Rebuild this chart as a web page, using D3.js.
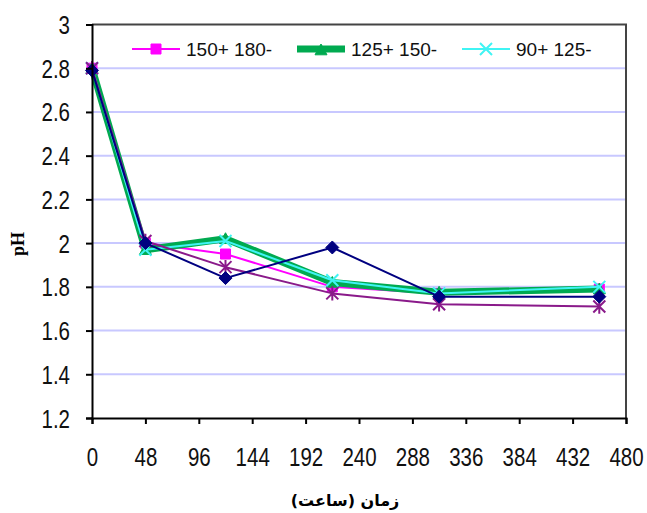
<!DOCTYPE html>
<html>
<head>
<meta charset="utf-8">
<script src="https://cdn.jsdelivr.net/npm/d3@7"></script>
<style>
  html, body { margin: 0; padding: 0; background: #fff; }
  svg { display: block; }
</style>
</head>
<body>
<svg id="chart" width="647" height="513"></svg>
<script>
// Sampling times (hours)
const hours = [0, 48, 120, 216, 312, 456];

// pH readings per particle-size fraction
const seriesNavy    = [2.79, 2.00, 1.84, 1.98, 1.755, 1.755];
const series150_180 = [2.80, 2.00, 1.95, 1.80, 1.77, 1.79];
const series125_150 = [2.80, 1.97, 2.02, 1.82, 1.775, 1.79];
const series90_125  = [2.80, 1.97, 2.01, 1.83, 1.77, 1.80];
const seriesPurple  = [2.80, 2.01, 1.89, 1.77, 1.72, 1.71];

const legendLabels = ["150+ 180-", "125+ 150-", "90+ 125-"];
const xTicks = [0, 48, 96, 144, 192, 240, 288, 336, 384, 432, 480];
const yTicks = [1.2, 1.4, 1.6, 1.8, 2, 2.2, 2.4, 2.6, 2.8, 3];
const xTitle = "زمان (ساعت)";
const yTitle = "pH";

const svg = d3.select("#chart");
const plotL = 92, plotR = 626, plotT = 24.5, plotB = 418;

const x = d3.scaleLinear().domain([0, 480]).range([plotL, plotR]);
const y = d3.scaleLinear().domain([1.2, 3]).range([plotB, plotT]);

// Horizontal gridlines
svg.append("g").selectAll("line")
  .data(yTicks.filter(v => v > 1.2 && v < 3))
  .join("line")
  .attr("x1", plotL).attr("x2", plotR)
  .attr("y1", d => y(d)).attr("y2", d => y(d))
  .attr("stroke", "#c8c8ff").attr("stroke-width", 2);

// Plot frame (top and right)
svg.append("path")
  .attr("d", `M${plotL},${plotT}H${plotR}V${plotB}`)
  .attr("fill", "none").attr("stroke", "#444").attr("stroke-width", 2);

// Marker shapes
const markers = {
  diamond: s => `M0,${-s}L${s},0L0,${s}L${-s},0Z`,
  square: s => `M${-s},${-s}H${s}V${s}H${-s}Z`,
  triangle: s => `M0,${-s}L${s},${s * 0.8}H${-s}Z`,
  cross: s => `M${-s},${-s}L${s},${s}M${s},${-s}L${-s},${s}`,
  star: s => `M${-s},${-s}L${s},${s}M${s},${-s}L${-s},${s}M0,${-s * 1.2}V${s * 1.2}`
};

const series = [
  { values: series150_180, color: "#ff00ff", width: 2, marker: "square", size: 5, filled: true },
  { values: series125_150, color: "#00aa50", width: 7, marker: "triangle", size: 6, filled: true },
  { values: series90_125,  color: "#40f4f4", width: 2, marker: "cross", size: 6, filled: false },
  { values: seriesPurple,  color: "#8a1a8a", width: 2, marker: "star", size: 6, filled: false },
  { values: seriesNavy,    color: "#000080", width: 2, marker: "diamond", size: 6.5, filled: true }
];

const line = d3.line().x(d => x(d[0])).y(d => y(d[1]));

series.forEach(s => {
  const pts = hours.map((h, i) => [h, s.values[i]]);
  const g = svg.append("g");
  g.append("path")
    .attr("d", line(pts))
    .attr("fill", "none")
    .attr("stroke", s.color)
    .attr("stroke-width", s.width)
    .attr("stroke-linejoin", "round");
  g.selectAll("path.m").data(pts).join("path")
    .attr("class", "m")
    .attr("transform", d => `translate(${x(d[0])},${y(d[1])})`)
    .attr("d", markers[s.marker](s.size))
    .attr("fill", s.filled ? s.color : "none")
    .attr("stroke", s.color)
    .attr("stroke-width", s.filled ? 1 : 2);
});

// Axes
const yAxis = svg.append("g")
  .attr("transform", `translate(${plotL},0)`)
  .call(d3.axisLeft(y).tickValues(yTicks).tickSize(6).tickFormat(d3.format("~g")));
const xAxis = svg.append("g")
  .attr("transform", `translate(0,${plotB})`)
  .call(d3.axisBottom(x).tickValues(xTicks).tickSize(6).tickFormat(d3.format("d")));

[yAxis, xAxis].forEach(a => {
  a.select(".domain").attr("stroke", "#000").attr("stroke-width", 2);
  a.selectAll(".tick line").attr("stroke", "#000").attr("stroke-width", 2);
  a.selectAll(".tick text")
    .attr("fill", "#111")
    .style("font-family", "'Liberation Sans', Arial, sans-serif")
    .style("font-size", "25px");
});
yAxis.selectAll(".tick text")
  .attr("x", 0).attr("dy", "0.36em")
  .attr("transform", "translate(-22,0) scale(0.82,1)");
xAxis.selectAll(".tick text")
  .attr("y", 0).attr("dy", 0)
  .attr("transform", "translate(0,48) scale(0.82,1)");

// Axis titles
svg.append("text")
  .attr("x", 345).attr("y", 506)
  .attr("text-anchor", "middle")
  .style("font-family", "'DejaVu Sans', sans-serif")
  .style("font-weight", "bold")
  .style("font-size", "16px")
  .text(xTitle);

svg.append("text")
  .attr("transform", "translate(24,244) rotate(-90)")
  .attr("text-anchor", "middle")
  .style("font-family", "'Liberation Serif', 'Times New Roman', serif")
  .style("font-weight", "bold")
  .style("font-size", "18px")
  .text(yTitle);

// Legend
const legendItems = [
  { label: legendLabels[0], s: series[0], x0: 132 },
  { label: legendLabels[1], s: series[1], x0: 297 },
  { label: legendLabels[2], s: series[2], x0: 462 }
];
const ly = 49;
const lg = svg.append("g");
legendItems.forEach(it => {
  const g = lg.append("g");
  g.append("line")
    .attr("x1", it.x0).attr("x2", it.x0 + 48)
    .attr("y1", ly).attr("y2", ly)
    .attr("stroke", it.s.color).attr("stroke-width", it.s.width);
  g.append("path")
    .attr("transform", `translate(${it.x0 + 24},${ly + (it.s.marker === "triangle" ? 1 : 0)})`)
    .attr("d", markers[it.s.marker](it.s.size))
    .attr("fill", it.s.filled ? it.s.color : "none")
    .attr("stroke", it.s.color)
    .attr("stroke-width", it.s.filled ? 1 : 2);
  g.append("text")
    .attr("x", it.x0 + 54).attr("y", ly + 7)
    .attr("fill", "#111")
    .style("font-family", "'Liberation Sans', Arial, sans-serif")
    .style("font-size", "19px")
    .text(it.label);
});
</script>
</body>
</html>
